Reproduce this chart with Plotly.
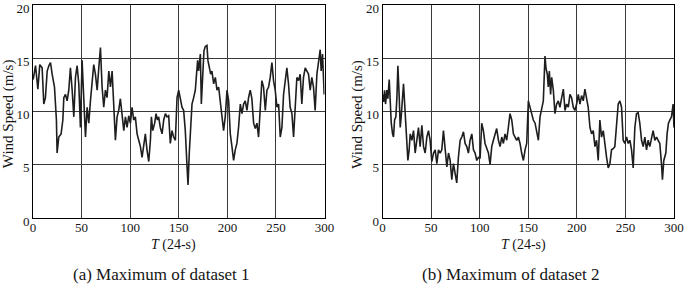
import plotly.graph_objects as go

# ---- data (T in 24-s steps, wind speed in m/s) ----
t1 = [0.2, 2.6, 5.0, 7.0, 9.4, 11.1, 12.8, 14.6, 16.3, 18.0, 19.7, 22.1, 24.1, 24.8, 26.5,
      28.9, 30.7, 31.7, 33.4, 35.1, 36.8, 38.5, 40.3, 42.0, 43.7, 45.4, 47.1, 48.8, 50.5,
      52.2, 54.0, 55.7, 57.4, 59.1, 60.8, 62.5, 64.2, 66.0, 67.7, 69.4, 71.1, 72.8, 74.5,
      76.2, 78.0, 79.7, 81.4, 83.1, 84.8, 86.5, 88.2, 89.9, 91.6, 93.4, 95.1, 96.8, 98.5,
      100.2, 101.9, 103.6, 105.3, 107.1, 108.8, 110.5, 112.2, 113.9, 115.6, 117.3, 119.1,
      120.8, 121.8, 123.2, 125.2, 126.6, 128.0, 129.3, 131.0, 132.8, 134.5, 136.2, 137.9,
      139.6, 141.3, 143.0, 144.7, 146.5, 148.2, 149.9, 151.6, 153.3, 155.0, 156.7, 158.5,
      159.5, 160.8, 162.2, 163.6, 165.3, 167.0, 168.0, 169.4, 170.4, 172.2, 173.2, 174.6,
      175.9, 177.3, 179.0, 180.0, 181.4, 182.8, 184.1, 185.9, 187.6, 189.3, 191.0, 192.7,
      194.4, 196.1, 197.8, 199.6, 201.3, 203.0, 204.7, 206.4, 208.1, 209.8, 211.5, 213.3,
      215.0, 216.7, 218.4, 220.1, 221.8, 223.5, 225.2, 227.0, 228.7, 230.4, 232.1, 233.8,
      235.5, 237.2, 239.0, 240.7, 242.4, 244.1, 245.8, 247.5, 249.2, 251.0, 252.7, 254.4,
      256.1, 257.8, 259.5, 261.2, 262.9, 264.6, 266.4, 268.1, 269.8, 271.5, 273.2, 274.9,
      276.6, 278.3, 280.1, 281.8, 283.5, 285.2, 286.9, 288.6, 290.3, 292.1, 293.8, 295.5,
      296.5, 297.9, 299.6]
wind1 = [13.0, 14.3, 12.1, 14.4, 14.1, 10.7, 11.3, 13.8, 14.3, 14.6, 13.5, 12.3, 9.2, 6.1, 7.6,
         7.9, 9.2, 11.3, 11.6, 11.0, 12.0, 14.1, 12.0, 9.5, 13.2, 14.3, 12.6, 8.5, 14.8,
         10.4, 7.6, 10.4, 8.9, 11.0, 13.2, 14.4, 13.5, 12.0, 14.1, 16.0, 12.3, 10.4, 12.0,
         11.3, 13.8, 12.3, 13.8, 10.4, 7.3, 9.5, 10.1, 11.2, 9.5, 8.2, 9.5, 8.5, 9.6,
         8.9, 10.4, 9.2, 9.5, 7.9, 7.3, 6.7, 5.7, 6.7, 7.9, 6.4, 5.3,
         7.3, 9.5, 8.2, 8.9, 9.8, 9.2, 9.5, 8.5, 7.9, 9.2, 9.8, 9.5,
         9.6, 7.0, 8.2, 7.6, 7.3, 11.3, 12.0, 11.0, 10.4, 10.1, 8.2, 4.8,
         3.1, 6.1, 8.5, 10.7, 11.3, 12.0, 13.2, 14.8, 13.8, 15.4, 10.7, 13.5,
         15.7, 16.1, 16.2, 14.8, 14.1, 13.5, 13.8, 12.6, 13.2, 12.0, 12.3, 11.0,
         9.2, 8.2, 9.5, 12.0, 11.0, 7.9, 6.7, 5.4, 6.4, 7.0, 8.5, 10.7,
         9.8, 10.7, 11.0, 10.1, 11.3, 12.0, 11.2, 8.9, 8.4, 8.9, 7.6, 10.1,
         12.9, 12.3, 10.1, 12.0, 12.3, 13.2, 14.6, 12.9, 12.0, 10.4, 10.7, 7.6,
         8.5, 11.6, 13.2, 14.1, 12.6, 10.4, 9.8, 7.6, 10.4, 13.2, 12.9, 13.5,
         10.7, 13.2, 14.1, 13.8, 13.5, 12.0, 13.2, 12.3, 10.1, 13.5, 14.8, 15.8,
         13.8, 15.4, 11.6]

t2 = [0.4, 1.1, 2.1, 3.1, 4.5, 5.5, 6.9, 7.9, 9.0, 10.3, 11.3, 12.4, 13.7, 14.8, 15.8, 17.2,
      18.2, 19.2, 20.6, 21.6, 22.6, 23.7, 25.0, 26.1, 27.4, 28.5, 30.2, 31.9, 33.6, 35.3,
      37.0, 38.7, 40.5, 42.2, 43.9, 45.6, 47.3, 49.0, 50.7, 52.5, 54.2, 55.9, 57.6, 59.3,
      61.0, 62.7, 64.4, 66.2, 67.9, 69.6, 71.3, 73.0, 74.7, 76.4, 78.1, 79.9, 81.6, 83.3,
      85.0, 86.7, 88.4, 90.1, 91.9, 93.6, 95.3, 97.0, 98.7, 100.4,
      102.1, 103.8, 105.5, 107.3, 109.0, 110.7, 112.4, 114.1, 115.8, 117.5, 119.3, 121.0,
      122.7, 124.4, 126.1, 127.8, 129.5, 131.2, 133.0, 134.7, 136.4, 138.1, 139.8, 141.5,
      143.2, 145.0, 146.7, 148.4, 150.1, 151.8, 153.5, 155.2, 157.0, 158.7, 160.4, 162.1,
      163.8, 165.5, 167.2, 168.2, 169.6, 170.6, 171.7, 173.0, 174.1, 175.8, 177.5, 179.2,
      180.9, 182.6, 184.4, 186.1, 187.8, 189.5, 191.2, 192.9, 194.6, 196.3, 198.0,
      199.8, 201.5, 203.2, 204.9, 206.6, 208.3, 210.0, 211.7, 213.5, 215.2, 216.9, 218.6,
      220.3, 222.0, 223.7, 225.4, 227.2, 228.9, 230.6, 232.3, 234.0, 235.7, 237.4, 239.1,
      240.9, 242.6, 244.3, 246.0, 247.7, 249.4, 251.1, 252.9, 254.6, 256.3, 258.0, 259.7,
      261.4, 263.1, 264.8, 266.6, 268.3, 270.0, 271.7, 273.4, 275.1, 276.8, 278.5, 280.3,
      282.0, 283.7, 285.4, 287.1, 288.1, 289.5, 291.6, 292.9, 294.3, 295.7, 297.4, 299.1,
      300.0]
wind2 = [11.6, 10.9, 12.0, 10.7, 12.0, 11.2, 13.0, 10.4, 8.9, 7.9, 7.6, 9.2, 9.5, 11.3, 14.3, 11.3,
         8.5, 9.5, 11.3, 12.6, 11.0, 9.5, 7.6, 5.4, 6.4, 7.9, 7.3, 8.2, 6.1, 7.3,
         8.5, 6.7, 8.7, 6.7, 6.1, 7.6, 8.2, 7.3, 5.3, 6.1, 6.4, 5.1, 6.4, 6.1,
         6.4, 8.2, 6.4, 4.8, 6.1, 5.4, 3.6, 5.1, 4.2, 3.3, 5.7, 7.3, 7.6, 8.1,
         7.0, 6.7, 6.1, 7.3, 7.9, 6.4, 6.1, 5.4, 5.7, 5.6,
         8.9, 8.2, 7.0, 6.4, 6.1, 5.0, 6.7, 7.3, 7.9, 8.4, 7.3, 6.7,
         7.6, 7.0, 7.9, 7.3, 8.5, 9.8, 9.2, 7.9, 7.6, 7.3, 7.6, 7.0,
         6.1, 5.4, 6.4, 7.0, 11.0, 10.4, 9.8, 9.2, 8.9, 7.9, 7.3, 9.5,
         10.4, 11.0, 15.2, 14.1, 13.5, 12.3, 13.8, 11.6, 13.2, 12.0, 9.8, 10.7,
         11.0, 10.4, 11.3, 12.1, 10.1, 10.7, 10.4, 11.6, 11.3, 10.4, 10.1,
         10.7, 11.6, 10.7, 11.5, 11.0, 12.1, 11.3, 10.4, 8.5, 7.9, 8.2, 6.7,
         7.3, 5.4, 9.2, 7.6, 8.2, 6.7, 5.7, 4.7, 5.1, 6.4, 6.5, 6.7,
         8.9, 10.7, 11.0, 10.4, 7.3, 7.0, 7.6, 7.0, 7.3, 6.4, 4.7, 8.5,
         9.8, 9.9, 8.9, 7.3, 6.7, 7.6, 6.4, 7.3, 6.7, 7.6, 8.2, 7.3,
         7.6, 7.3, 7.0, 5.1, 3.6, 5.4, 6.1, 7.9, 8.9, 9.2, 9.5, 10.7,
         8.5]

x_ticks = [0, 50, 100, 150, 200, 250, 300]
y_ticks = [0, 5, 10, 15, 20]
captions = ["(a) Maximum of dataset 1", "(b) Maximum of dataset 2"]
y_title = "Wind Speed (m/s)"
x_title = "<i>T</i> (24-s)"

W, H = 685, 287
FONT = "Liberation Serif, Times New Roman, serif"
LINE = "#1e1e1e"
TXT = "#151515"

ML, MR, MT, MB = 32.5, 11.0, 4.7, 69.0
PW = W - ML - MR
PH = H - MT - MB

fig = go.Figure()
fig.add_trace(go.Scatter(x=t1, y=wind1, mode="lines", line=dict(color=LINE, width=1.6),
                         xaxis="x", yaxis="y", showlegend=False, hoverinfo="skip"))
fig.add_trace(go.Scatter(x=t2, y=wind2, mode="lines", line=dict(color=LINE, width=1.6),
                         xaxis="x2", yaxis="y2", showlegend=False, hoverinfo="skip"))

left_px = (32.5, 324.3)
right_px = (382.3, 674.0)
dom_left = [(left_px[0] - ML) / PW, (left_px[1] - ML) / PW]
dom_right = [(right_px[0] - ML) / PW, (right_px[1] - ML) / PW]

ax_common = dict(showline=True, linecolor="black", linewidth=1, mirror=True,
                 showgrid=True, gridcolor="#3a3a3a", gridwidth=1, zeroline=False,
                 ticks="", automargin=False, ticklabeloverflow="allow",
                 tickfont=dict(family=FONT, size=13, color=TXT))

xax = dict(range=[0, 300], tickvals=x_ticks, ticklabelstandoff=-3, **ax_common)
yax = dict(domain=[0, 1], range=[0, 20], tickvals=y_ticks, ticklabelshift=3, **ax_common)

fig.update_layout(
    width=W, height=H, margin=dict(l=ML, r=MR, t=MT, b=MB, autoexpand=False),
    paper_bgcolor="white", plot_bgcolor="white",
    xaxis=dict(domain=dom_left, anchor="y", **xax),
    yaxis=dict(anchor="x", **yax),
    xaxis2=dict(domain=dom_right, anchor="y2", **xax),
    yaxis2=dict(anchor="x2", **yax),
)

def px_x(p):
    return (p - ML) / PW

def px_y(p):
    return 1 - (p - MT) / PH

annots = []
for lp, cap in zip([left_px, right_px], captions):
    cx = (lp[0] + lp[1]) / 2
    annots.append(dict(x=px_x(cx - 5), y=px_y(245), xref="paper", yref="paper", text=x_title,
                       showarrow=False, font=dict(family=FONT, size=14, color=TXT),
                       xanchor="center", yanchor="middle"))
    annots.append(dict(x=px_x(cx - 17), y=px_y(275), xref="paper", yref="paper", text=cap,
                       showarrow=False, font=dict(family=FONT, size=17, color=TXT),
                       xanchor="center", yanchor="middle"))
    annots.append(dict(x=px_x(lp[0] - 25), y=px_y(114), xref="paper", yref="paper",
                       text=y_title, textangle=-90, showarrow=False,
                       font=dict(family=FONT, size=15, color=TXT),
                       xanchor="center", yanchor="middle"))
fig.update_layout(annotations=annots)

fig.write_html("out.html", config={"displayModeBar": False, "staticPlot": True},
               post_script="document.body.style.margin='0';")
